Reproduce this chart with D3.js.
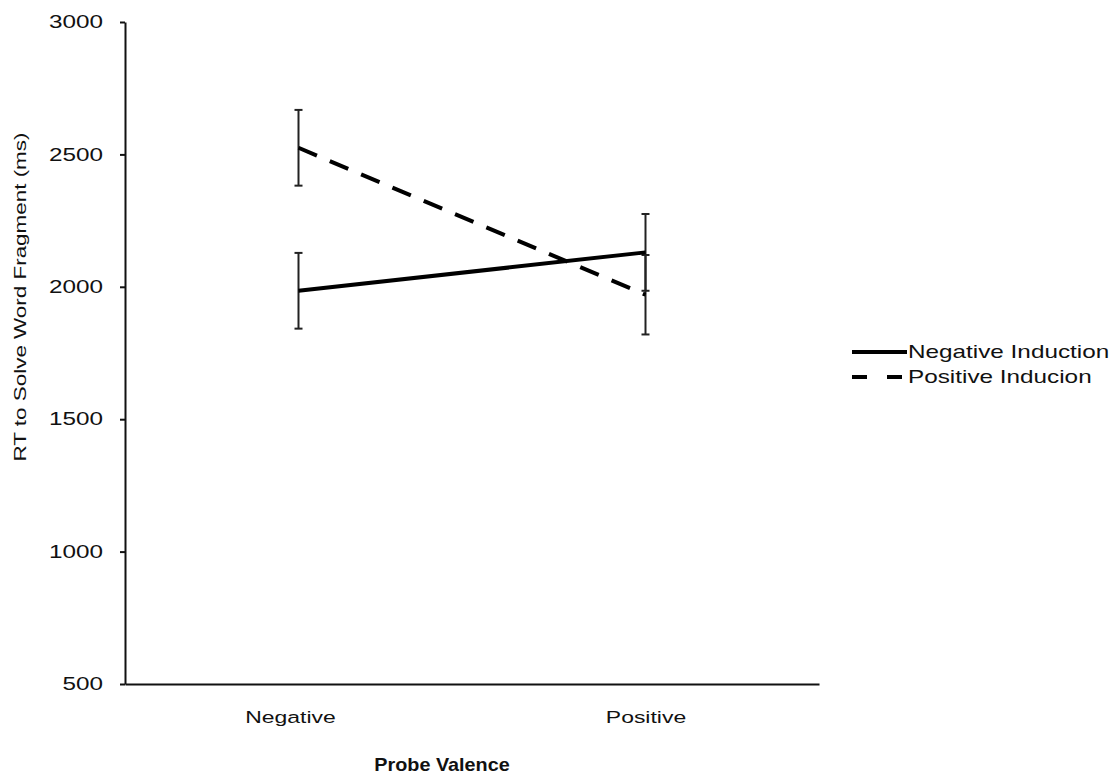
<!DOCTYPE html>
<html>
<head>
<meta charset="utf-8">
<script src="https://cdn.jsdelivr.net/npm/d3@7"></script>
<style>
  body { margin: 0; background: #fff; }
  text { font-family: "Liberation Sans", Arial, sans-serif; fill: #111; }
</style>
</head>
<body>
<div id="graph"></div>
<script>
// data
var categories = ["Negative", "Positive"];
var seriesNames = ["Negative Induction", "Positive Inducion"];
var negInduction = [1985, 2130];
var negInductionErr = [143, 145];
var posInduction = [2525, 1970];
var posInductionErr = [143, 150];
var yTicks = [500, 1000, 1500, 2000, 2500, 3000];

var series = [
    {name: seriesNames[0], values: negInduction, err: negInductionErr, dash: null},
    {name: seriesNames[1], values: posInduction, err: posInductionErr, dash: "20,14"}
];

// the scanned figure uses a wide typeface, so text gets stretched sideways
var wide = 1.35;

var svg = d3.select("#graph").append("svg")
    .attr("width", 1117).attr("height", 780);

var x = d3.scalePoint().domain(categories).range([125, 819]).padding(0.5);
var y = d3.scaleLinear().domain([500, 3000]).range([684, 22]);

// y axis
var yAxis = svg.append("g")
    .attr("transform", "translate(125,0)")
    .call(d3.axisLeft(y).tickValues(yTicks).tickFormat(d3.format("d")).tickSize(5).tickSizeOuter(0));
yAxis.select(".domain").attr("stroke", "#111").attr("stroke-width", 2);
yAxis.selectAll(".tick line").attr("stroke", "#111").attr("stroke-width", 2);
yAxis.selectAll(".tick text")
    .attr("x", -22 / wide)
    .attr("transform", "scale(" + wide + ",1)")
    .attr("fill", "#111")
    .style("font-size", "18px");

// x axis
var xAxis = svg.append("g")
    .attr("transform", "translate(0,684)")
    .call(d3.axisBottom(x).tickSize(0).tickSizeOuter(0).tickPadding(27));
xAxis.select(".domain").attr("stroke", "#111").attr("stroke-width", 2);
xAxis.selectAll(".tick text")
    .attr("transform", "scale(" + wide + ",1)")
    .attr("fill", "#111")
    .style("font-size", "17px");
xAxis.selectAll(".tick").filter(function(d) { return d == "Negative"; })
    .attr("transform", "translate(" + (x("Negative") - 8) + ",0)");

// axis titles
svg.append("text")
    .attr("transform", "translate(26,297) rotate(-90) scale(1.32,1)")
    .attr("text-anchor", "middle")
    .style("font-size", "17px")
    .text("RT to Solve Word Fragment (ms)");

svg.append("text")
    .attr("transform", "translate(442,771) scale(1.1,1)")
    .attr("text-anchor", "middle")
    .style("font-size", "18px")
    .style("font-weight", "bold")
    .text("Probe Valence");

// error bars
series.forEach(function(s) {
    var g = svg.append("g");
    categories.forEach(function(c, i) {
        var cx = x(c);
        var top = y(s.values[i] + s.err[i]);
        var bot = y(s.values[i] - s.err[i]);
        g.append("line").attr("x1", cx).attr("x2", cx).attr("y1", top).attr("y2", bot)
            .attr("stroke", "#222").attr("stroke-width", 2);
        [top, bot].forEach(function(yy) {
            g.append("line").attr("x1", cx - 4).attr("x2", cx + 4).attr("y1", yy).attr("y2", yy)
                .attr("stroke", "#222").attr("stroke-width", 2);
        });
    });
});

// lines
var line = d3.line()
    .x(function(d) { return x(d.c); })
    .y(function(d) { return y(d.v); });

series.forEach(function(s) {
    var pts = categories.map(function(c, i) { return {c: c, v: s.values[i]}; });
    svg.append("path")
        .datum(pts)
        .attr("d", line)
        .attr("fill", "none")
        .attr("stroke", "#000")
        .attr("stroke-width", 4)
        .attr("stroke-dasharray", s.dash);
});

// legend
var legend = svg.append("g").attr("transform", "translate(852,352)");
series.forEach(function(s, i) {
    var gy = i * 25;
    legend.append("line")
        .attr("x1", 0).attr("x2", 55).attr("y1", gy).attr("y2", gy)
        .attr("stroke", "#000").attr("stroke-width", 4)
        .attr("stroke-dasharray", s.dash ? "15,20" : null);
    legend.append("text")
        .attr("transform", "translate(56," + gy + ") scale(" + wide + ",1)")
        .attr("dy", "0.35em")
        .style("font-size", "18px")
        .text(s.name);
});
</script>
</body>
</html>
